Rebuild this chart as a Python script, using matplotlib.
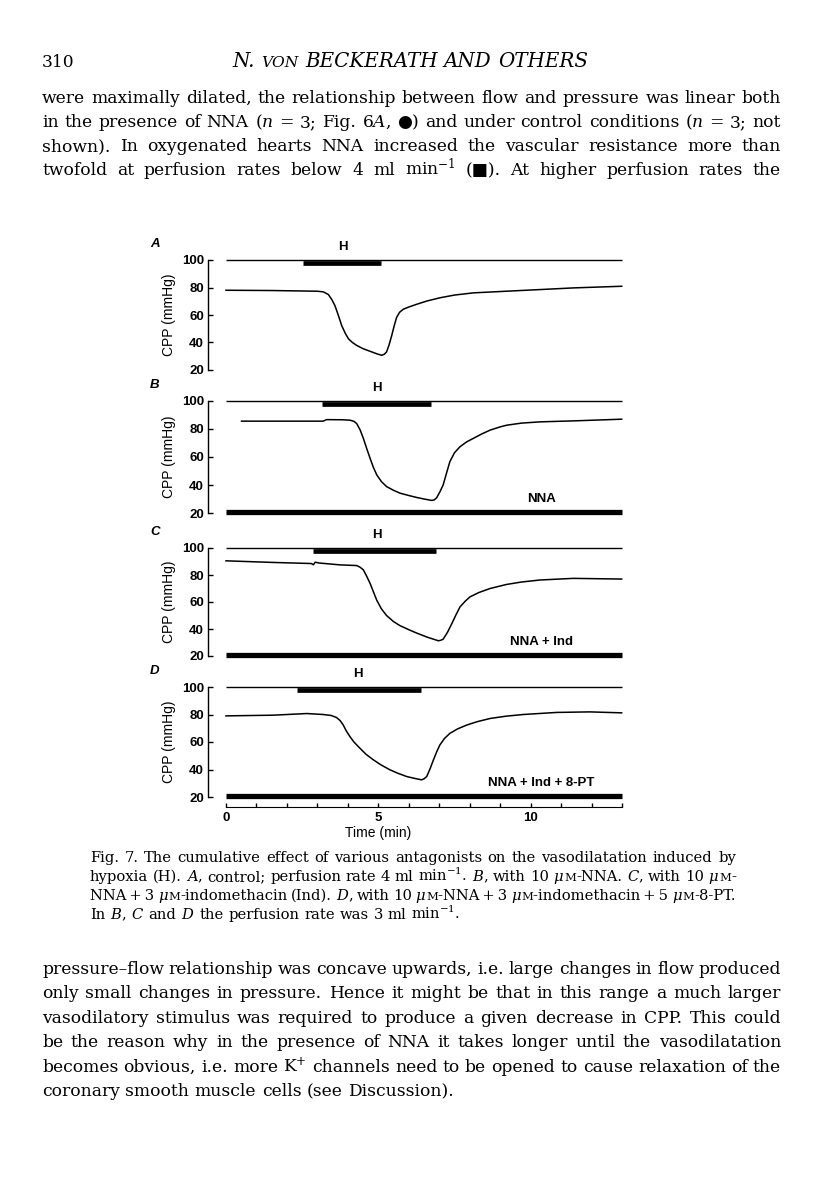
import re
import matplotlib
matplotlib.use("Agg")
import matplotlib.pyplot as plt
from matplotlib.transforms import offset_copy

W, H = 816, 1183

plt.rcParams["mathtext.fontset"] = "dejavuserif"
SERIF = ["DejaVu Serif", "DejaVu Sans"]
SANS = ["Liberation Sans", "DejaVu Sans"]

# --- traces: time (min) vs CPP (mmHg) ---
time_a = [0, 1.5, 3.0, 3.2, 3.36, 3.48, 3.58, 3.70, 3.80, 3.92, 4.02, 4.15, 4.29, 4.5, 4.73,
          4.95, 5.11, 5.20, 5.27, 5.35, 5.44, 5.52, 5.60, 5.70, 5.82, 6.0, 6.26, 6.6, 7.02,
          7.5, 8.12, 9.21, 10.31, 11.40, 12.99]
cpp_a = [78.0, 77.8, 77.3, 76.8, 74.9, 71.0, 66.6, 59.0, 52.2, 46.5, 42.7, 40.0, 37.9, 35.5, 33.6,
         31.8, 30.7, 31.5, 33.1, 38.0, 45.0, 52.0, 58.2, 62.0, 64.2, 65.8, 67.8, 70.2, 72.5,
         74.5, 76.1, 77.3, 78.5, 79.7, 80.9]

time_b = [0.51, 2.0, 3.19, 3.30, 3.8, 4.07, 4.2, 4.29, 4.40, 4.51, 4.62, 4.73, 4.84, 4.95, 5.10,
          5.27, 5.5, 5.71, 6.0, 6.26, 6.5, 6.75, 6.83, 6.91, 7.02, 7.13, 7.24, 7.35, 7.5, 7.68,
          7.9, 8.12, 8.4, 8.67, 9.0, 9.21, 9.7, 10.31, 11.40, 12.99]
cpp_b = [85.6, 85.6, 85.6, 86.7, 86.6, 86.3, 85.5, 83.9, 79.5, 73.3, 66.0, 59.1, 52.5, 47.2, 42.5,
         38.9, 36.2, 34.2, 32.5, 31.1, 30.0, 29.0, 29.3, 30.7, 35.0, 40.1, 48.5, 56.7, 63.0, 67.3,
         70.8, 73.3, 76.5, 79.2, 81.5, 82.7, 84.2, 85.1, 85.8, 87.0]

time_c = [0, 1.55, 2.80, 2.87, 2.93, 3.05, 3.74, 4.29, 4.40, 4.51, 4.62, 4.73, 4.84, 4.95, 5.10,
          5.27, 5.5, 5.71, 6.0, 6.26, 6.6, 6.97, 7.05, 7.13, 7.27, 7.41, 7.55, 7.68, 7.85, 8.01,
          8.3, 8.67, 9.21, 9.7, 10.31, 11.40, 12.99]
cpp_c = [90.5, 89.3, 88.5, 87.6, 89.5, 88.9, 87.5, 87.0, 85.8, 83.8, 79.0, 73.8, 67.5, 61.3, 55.0,
         50.0, 45.5, 42.5, 39.5, 37.0, 34.0, 31.3, 31.6, 32.5, 37.5, 43.8, 50.5, 56.3, 60.5, 63.8,
         67.0, 70.0, 73.0, 74.8, 76.3, 77.5, 77.0]

time_d = [0, 1.55, 2.65, 3.19, 3.45, 3.63, 3.75, 3.85, 3.95, 4.07, 4.2, 4.40, 4.6, 4.84, 5.1,
          5.38, 5.65, 5.93, 6.2, 6.42, 6.50, 6.59, 6.70, 6.81, 6.92, 7.02, 7.17, 7.35, 7.6, 7.90,
          8.25, 8.67, 9.2, 9.76, 10.85, 11.95, 12.99]
cpp_d = [79.0, 79.5, 80.7, 80.0, 79.3, 77.8, 75.5, 72.3, 68.0, 63.9, 60.0, 55.4, 51.0, 47.0, 43.2,
         39.8, 37.2, 34.9, 33.5, 32.5, 33.2, 34.9, 40.5, 47.0, 53.0, 57.8, 62.5, 66.3, 69.5, 72.3,
         74.8, 77.1, 78.8, 80.0, 81.5, 81.9, 81.2]

panel_letters = ["A", "B", "C", "D"]
traces_t = [time_a, time_b, time_c, time_d]
traces_p = [cpp_a, cpp_b, cpp_c, cpp_d]
hyp_start = [2.53, 3.15, 2.86, 2.32]
hyp_end = [5.09, 6.73, 6.89, 6.39]
hyp_label_t = [3.84, 4.96, 4.96, 4.33]
drug_labels = [None, "NNA", "NNA + Ind", "NNA + Ind + 8-PT"]
drug_label_t = 10.36
ref_level = 100
trace_span = (0, 13)
y_ticks = [20, 40, 60, 80, 100]
time_ticks = list(range(0, 14))
time_labels = {0: "0", 5: "5", 10: "10"}

# panel placement on the page: pixel rows of the 100 and 20 mmHg levels
row_100 = [260, 401, 548, 687]
row_20 = [370, 513, 656, 797]
ax_left, ax_right = 208, 623
t_zero_px, px_per_min = 226, 30.46

fig = plt.figure(figsize=(W / 100, H / 100), dpi=100)
fig.patch.set_facecolor("white")

for i in range(4):
    ax = fig.add_axes([ax_left / W, 1 - row_20[i] / H, (ax_right - ax_left) / W,
                       (row_20[i] - row_100[i]) / H])
    ax.set_xlim((ax_left - t_zero_px) / px_per_min, (ax_right - t_zero_px) / px_per_min)
    ax.set_ylim(20, 100)
    ax.patch.set_alpha(0)
    for s in ["top", "right", "bottom"]:
        ax.spines[s].set_visible(False)
    ax.spines["left"].set_linewidth(1.0)

    ax.plot(traces_t[i], traces_p[i], color="black", lw=1.1, solid_joinstyle="round")
    ax.hlines(ref_level, *trace_span, color="black", lw=1.0, clip_on=False)

    below = offset_copy(ax.transData, fig=fig, y=-2.3, units="points")
    ax.hlines(ref_level, hyp_start[i], hyp_end[i], color="black", lw=3.4,
              transform=below, clip_on=False)
    ax.text(hyp_label_t[i], ref_level, "H", transform=offset_copy(ax.transData, fig=fig, y=5, units="points"),
            ha="center", va="bottom", fontsize=9.5, fontweight="bold", family=SANS)

    if drug_labels[i]:
        above = offset_copy(ax.transData, fig=fig, y=0.8, units="points")
        ax.hlines(20, *trace_span, color="black", lw=3.8, transform=above, clip_on=False)
        ax.text(drug_label_t, 20, drug_labels[i],
                transform=offset_copy(ax.transData, fig=fig, y=6, units="points"),
                ha="center", va="bottom", fontsize=9.5, fontweight="bold", family=SANS)

    ax.set_yticks(y_ticks)
    ax.tick_params(axis="y", direction="in", length=3.5, width=1.0, pad=3)
    for lab in ax.get_yticklabels():
        lab.set_fontsize(9.5)
        lab.set_fontweight("bold")
        lab.set_family(SANS)
    ax.set_ylabel("CPP (mmHg)", fontsize=10, family=SANS, labelpad=4)

    fig.text(150 / W, 1 - (row_100[i] - 16) / H, panel_letters[i], fontsize=9.5,
             fontweight="bold", style="italic", family=SANS, va="center", ha="left")

    if i == 3:
        ax.spines["bottom"].set_visible(True)
        ax.spines["bottom"].set_position(("outward", 7))
        ax.spines["bottom"].set_bounds(*trace_span)
        ax.set_xticks(time_ticks)
        ax.set_xticklabels([time_labels.get(t, "") for t in time_ticks])
        ax.tick_params(axis="x", direction="in", length=3, width=1.0, pad=4)
        for lab in ax.get_xticklabels():
            lab.set_fontsize(9.5)
            lab.set_fontweight("bold")
            lab.set_family(SANS)
        ax.text(5.0, 20, "Time (min)", transform=offset_copy(ax.transData, fig=fig, y=-31, units="points"),
                ha="center", va="bottom", fontsize=10, family=SANS)
    else:
        ax.set_xticks([])


# --- page text ---
renderer = fig.canvas.get_renderer()


def put_line(y, text, x0, x1, size, align="justify", style="normal"):
    words = text.split(" ")
    pieces = []
    for w in words:
        segs = []
        for part in re.split(r"(\{\{.*?\}\})", w):
            if not part:
                continue
            small = part.startswith("{{")
            s = part[2:-2] if small else part
            t = fig.text(0, 0, s, fontsize=size * 0.78 if small else size, family=SERIF,
                         style=style, va="baseline", ha="left")
            segs.append(t)
        pieces.append(segs)
    widths = [[t.get_window_extent(renderer).width for t in segs] for segs in pieces]
    totals = sum(sum(ws) for ws in widths)
    natural = size * 100 / 72 * 0.32
    if align == "justify" and len(words) > 1:
        gap = (x1 - x0 - totals) / (len(words) - 1)
    else:
        gap = natural
    if align == "center":
        x = (x0 + x1) / 2 - (totals + gap * (len(words) - 1)) / 2
    else:
        x = x0
    for segs, ws in zip(pieces, widths):
        for t, wd in zip(segs, ws):
            t.set_position((x / W, 1 - y / H))
            x += wd
        x += gap


body_size = 12.3
cap_size = 10.6
body_l, body_r = 42, 781
cap_l, cap_r = 90, 736
thin = "\u2009"

put_line(67, "310", body_l, body_r, body_size, align="left")
put_line(67, "N. {{VON}} BECKERATH AND OTHERS", 228, 592, 14.3, align="center", style="italic")

para_top = [
    "were maximally dilated, the relationship between flow and pressure was linear both",
    "in the presence of NNA ($n$ = 3; Fig. 6$A$, ●) and under control conditions ($n$ = 3; not",
    "shown). In oxygenated hearts NNA increased the vascular resistance more than",
    "twofold at perfusion rates below 4 ml min$^{-1}$ (■). At higher perfusion rates the",
]
for k, line in enumerate(para_top):
    put_line(103 + 24 * k, line, body_l, body_r, body_size)

caption = [
    "Fig. 7. The cumulative effect of various antagonists on the vasodilatation induced by",
    "hypoxia (H). $A$, control; perfusion rate 4 ml min$^{-1}$. $B$, with 10 $\\mu${{M}}-NNA. $C$, with 10 $\\mu${{M}}-",
    f"NNA{thin}+{thin}3 $\\mu${{{{M}}}}-indomethacin (Ind). $D$, with 10 $\\mu${{{{M}}}}-NNA{thin}+{thin}3 "
    f"$\\mu${{{{M}}}}-indomethacin{thin}+{thin}5 $\\mu${{{{M}}}}-8-PT.",
    "In $B$, $C$ and $D$ the perfusion rate was 3 ml min$^{-1}$.",
]
for k, line in enumerate(caption):
    put_line(862 + 19 * k, line, cap_l, cap_r, cap_size,
             align="justify" if k < len(caption) - 1 else "left")

para_bottom = [
    "pressure–flow relationship was concave upwards, i.e. large changes in flow produced",
    "only small changes in pressure. Hence it might be that in this range a much larger",
    "vasodilatory stimulus was required to produce a given decrease in CPP. This could",
    "be the reason why in the presence of NNA it takes longer until the vasodilatation",
    "becomes obvious, i.e. more K$^{+}$ channels need to be opened to cause relaxation of the",
    "coronary smooth muscle cells (see Discussion).",
]
for k, line in enumerate(para_bottom):
    put_line(974 + 24.4 * k, line, body_l, body_r, body_size,
             align="justify" if k < len(para_bottom) - 1 else "left")

fig.savefig("out.png", dpi=100, facecolor="white")
